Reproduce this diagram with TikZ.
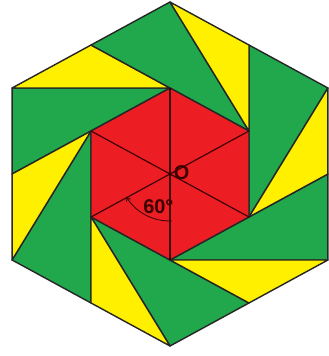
\documentclass[tikz,border=0pt]{standalone}
\usepackage{fontspec}
\setmainfont{Liberation Sans}
\usetikzlibrary{calc, arrows.meta}
\definecolor{pgreen}{RGB}{34,168,76}
\definecolor{pyellow}{RGB}{255,240,0}
\definecolor{pred}{RGB}{236,30,36}
\definecolor{pdark}{RGB}{60,0,0}

\begin{document}
\begin{tikzpicture}[x=0.03cm, y=0.03cm,
    blade/.style={draw=black!85, fill=pgreen, line width=1.2pt, line join=round},
    wedge/.style={draw=black!85, fill=pyellow, line width=1.2pt, line join=round},
    core/.style={draw=black!85, fill=pred, line width=1.2pt, line join=round},
    spoke/.style={draw=pdark, line width=1pt},
    arcline/.style={draw=pdark, line width=0.7pt, -{Straight Barb[length=3pt, width=4pt]}},
    lbl/.style={font=\fontsize{17}{19}\selectfont\bfseries, text=pdark, inner sep=0pt}
]
\useasboundingbox (0,0) rectangle (329,356);

\begin{scope}[shift={(170,182)}, xscale=1.06]
% outer and inner corners
\coordinate (O) at (0,0);
\foreach \k in {0,...,5} {
    \coordinate (V\k) at ({90+60*\k}:172);
    \coordinate (v\k) at ({90+60*\k}:86);
}
% edge midpoints of the outer hexagon
\foreach \k in {0,...,5} {
    \pgfmathtruncatemacro{\j}{mod(\k+1,6)}
    \coordinate (M\k) at ($(V\k)!0.5!(V\j)$);
}

% pinwheel blades
\foreach \k in {0,...,5} {
    \pgfmathtruncatemacro{\j}{mod(\k+1,6)}
    \path[blade] (v\k) -- (V\j) -- (M\j) -- (v\j) -- cycle;
    \path[wedge] (v\k) -- (M\k) -- (V\j) -- cycle;
}

% red centre
\path[core] (v0) -- (v1) -- (v2) -- (v3) -- (v4) -- (v5) -- cycle;
\draw[spoke] (v0) -- (v3);
\draw[spoke] (v1) -- (v4);
\draw[spoke] (v2) -- (v5);

\draw[arcline] ($(O)+(272:47)$) arc[start angle=272, end angle=209, radius=47];
\node[lbl] (olbl) at (11,1) {O};
\node[lbl] (angle) at (-11,-33) {60°};
\end{scope}
\end{tikzpicture}
\end{document}
